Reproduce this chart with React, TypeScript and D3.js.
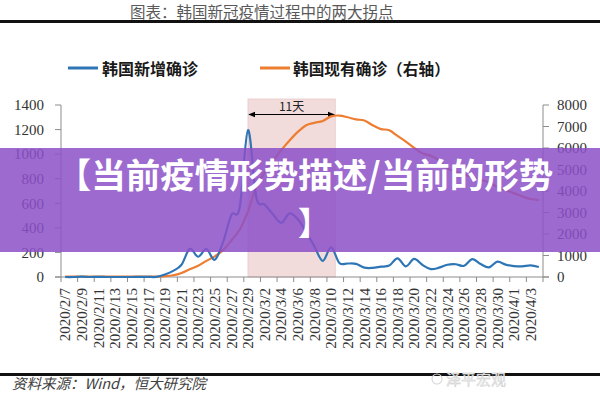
import React from "react";
import * as d3 from "d3";

// ---- data ----
const dates: string[] = d3
  .timeDay.range(new Date(2020, 1, 7), new Date(2020, 3, 5))
  .map((d) => d3.timeFormat("%Y/%-m/%-d")(d));

const newCases = [
  0, 0, 3, 0, 1, 0, 0, 0, 0, 1, 1, 1,
  20, 50, 100, 229, 165, 228, 140, 284, 505, 565,
  1195, 650, 590, 510, 440, 518, 470, 367, 248, 131,
  242, 114, 110, 107, 76, 74, 84, 93, 152, 87,
  147, 98, 64, 76, 100, 104, 91, 146, 105, 78,
  125, 101, 89, 86, 94, 81,
];

const activeCases = [
  23, 23, 24, 24, 21, 21, 21, 19, 19, 19, 18, 19,
  35, 80, 190, 360, 520, 750, 960, 1250, 1700, 2200,
  3050, 4200, 4850, 5400, 5900, 6350, 6750, 7060, 7170, 7260,
  7470, 7510, 7430, 7330, 7280, 7060, 6880, 6830, 6560, 6300,
  6000, 5750, 5640, 5420, 5050, 4900, 4760, 4660, 4520, 4400,
  4200, 4050, 3900, 3750, 3630, 3580,
];

const leftTicks = [0, 200, 400, 600, 800, 1000, 1200, 1400];
const rightTicks = [0, 1000, 2000, 3000, 4000, 5000, 6000, 7000, 8000];
const shadeStart = "2020/2/29";
const shadeEnd = "2020/3/11";
const shadeLabel = "11天";

const title = "图表：韩国新冠疫情过程中的两大拐点";
const legendNew = "韩国新增确诊";
const legendActive = "韩国现有确诊（右轴）";
const source = "资料来源：Wind，恒大研究院";
const watermark = "泽平宏观";
const bannerLine1 = "【当前疫情形势描述/当前的形势";
const bannerLine2 = "】";

const BLUE = "#2E75B6";
const ORANGE = "#ED7D31";
const AXIS = "#8c8c8c";

export default function App() {
  const x0 = 61;
  const x1 = 543;
  const yTop = 105;
  const yBot = 277;

  const x = d3.scaleBand<string>().domain(dates).range([x0, x1]).padding(0);
  const bw = x.bandwidth();
  const cx = (d: string) => (x(d) as number) + bw / 2;
  const yL = d3.scaleLinear().domain([0, 1400]).range([yBot, yTop]);
  const yR = d3.scaleLinear().domain([0, 8000]).range([yBot, yTop]);

  const lineNew = d3
    .line<number>()
    .x((_, i) => cx(dates[i]))
    .y((v) => yL(v))
    .curve(d3.curveCardinal.tension(0));
  const lineActive = d3
    .line<number>()
    .x((_, i) => cx(dates[i]))
    .y((v) => yR(v))
    .curve(d3.curveCardinal.tension(0));

  const sx1 = cx(shadeStart);
  const sx2 = x(shadeEnd) as number;
  const serif = "'Liberation Serif', 'DejaVu Serif', serif";
  const cjk = "'Noto Sans CJK SC', sans-serif";

  const tickIdx = dates.map((_, i) => i).filter((i) => i % 2 === 0);

  return (
    <svg
      width={600}
      height={400}
      style={{ position: "fixed", left: 0, top: 0, background: "#fff" }}
    >
      <defs>
        <marker id="ah" viewBox="0 0 10 10" refX="9" refY="5" markerWidth="7" markerHeight="7" orient="auto-start-reverse">
          <path d="M0,1 L10,5 L0,9 z" fill="#000" />
        </marker>
      </defs>
      <rect width={600} height={400} fill="#fff" />
      {/* title */}
      <text x={130} y={17.5} fontFamily={cjk} fontSize={15.5} fill="#595959">
        {title}
      </text>
      <rect x={0} y={20} width={600} height={3} fill="#111" />

      {/* legend */}
      <line x1={68} x2={98} y1={68} y2={68} stroke={BLUE} strokeWidth={3} />
      <text x={102} y={74.5} fontFamily={cjk} fontSize={16} fontWeight={700} fill="#1a1a1a">
        {legendNew}
      </text>
      <line x1={260} x2={290} y1={68} y2={68} stroke={ORANGE} strokeWidth={3} />
      <text x={293} y={74.5} fontFamily={cjk} fontSize={15.7} fontWeight={700} fill="#1a1a1a">
        {legendActive}
      </text>

      {/* shaded period */}
      <rect x={sx1} y={99} width={sx2 - sx1} height={yBot - 99} fill="#f2dcdb" stroke="#e8c8c8" strokeWidth={0.8} />
      <line x1={sx1 + 1} x2={sx2 - 1} y1={114.5} y2={114.5} stroke="#000" strokeWidth={1} markerStart="url(#ah)" markerEnd="url(#ah)" />
      <text x={(sx1 + sx2) / 2} y={111} textAnchor="middle" fontFamily={cjk} fontSize={12} fill="#222">
        {shadeLabel}
      </text>

      {/* axes */}
      <line x1={x0} x2={x0} y1={yTop} y2={yBot} stroke={AXIS} />
      <line x1={x1} x2={x1} y1={yTop} y2={yBot} stroke={AXIS} />
      <line x1={x0 - 6} x2={x1 + 6} y1={yBot} y2={yBot} stroke={AXIS} />
      {leftTicks.map((t) => (
        <g key={"l" + t}>
          <line x1={x0 - 6} x2={x0} y1={yL(t)} y2={yL(t)} stroke={AXIS} />
          <text x={44} y={yL(t)} dy="0.35em" textAnchor="end" fontFamily={serif} fontSize={15} fill="#333">
            {t}
          </text>
        </g>
      ))}
      {rightTicks.map((t) => (
        <g key={"r" + t}>
          <line x1={x1} x2={x1 + 6} y1={yR(t)} y2={yR(t)} stroke={AXIS} />
          <text x={557} y={yR(t)} dy="0.35em" textAnchor="start" fontFamily={serif} fontSize={15} fill="#333">
            {t}
          </text>
        </g>
      ))}
      {tickIdx.map((i) => (
        <line key={"t" + i} x1={x(dates[i]) as number} x2={x(dates[i]) as number} y1={yBot} y2={yBot + 5} stroke={AXIS} />
      ))}
      <line x1={x1} x2={x1} y1={yBot} y2={yBot + 5} stroke={AXIS} />
      {tickIdx.map((i) => (
        <text
          key={"xl" + i}
          transform={`translate(${cx(dates[i])},${yBot + 11}) rotate(-90)`}
          dy="0.35em"
          textAnchor="end"
          fontFamily={serif}
          fontSize={15}
          fill="#333"
        >
          {dates[i]}
        </text>
      ))}

      {/* series */}
      <path d={lineActive(activeCases) || ""} fill="none" stroke={ORANGE} strokeWidth={2.2} />
      <path d={lineNew(newCases) || ""} fill="none" stroke={BLUE} strokeWidth={2.2} />

      {/* footer */}
      <rect x={0} y={373} width={600} height={3} fill="#111" />
      <text x={12} y={389} fontFamily={cjk} fontSize={14.5} fontStyle="italic" fill="#404040">
        {source}
      </text>
      <circle cx={437} cy={379} r={5} fill="none" stroke="#d6d6d6" strokeWidth={1.1} />
      <text x={446} y={385} fontFamily={cjk} fontSize={15} fill="#eeeeee" stroke="#c8c8c8" strokeWidth={0.4}>
        {watermark}
      </text>

      {/* banner overlay */}
      <rect x={0} y={148} width={600} height={104} fill="rgb(140,80,200)" opacity={0.85} />
      <text x={305} y={188} textAnchor="middle" fontFamily={cjk} fontSize={34.5} fontWeight={700} fill="#fff">
        {bannerLine1}
      </text>
      <text x={314} y={235} textAnchor="middle" fontFamily={cjk} fontSize={32} fontWeight={700} fill="#fff">
        {bannerLine2}
      </text>
    </svg>
  );
}
